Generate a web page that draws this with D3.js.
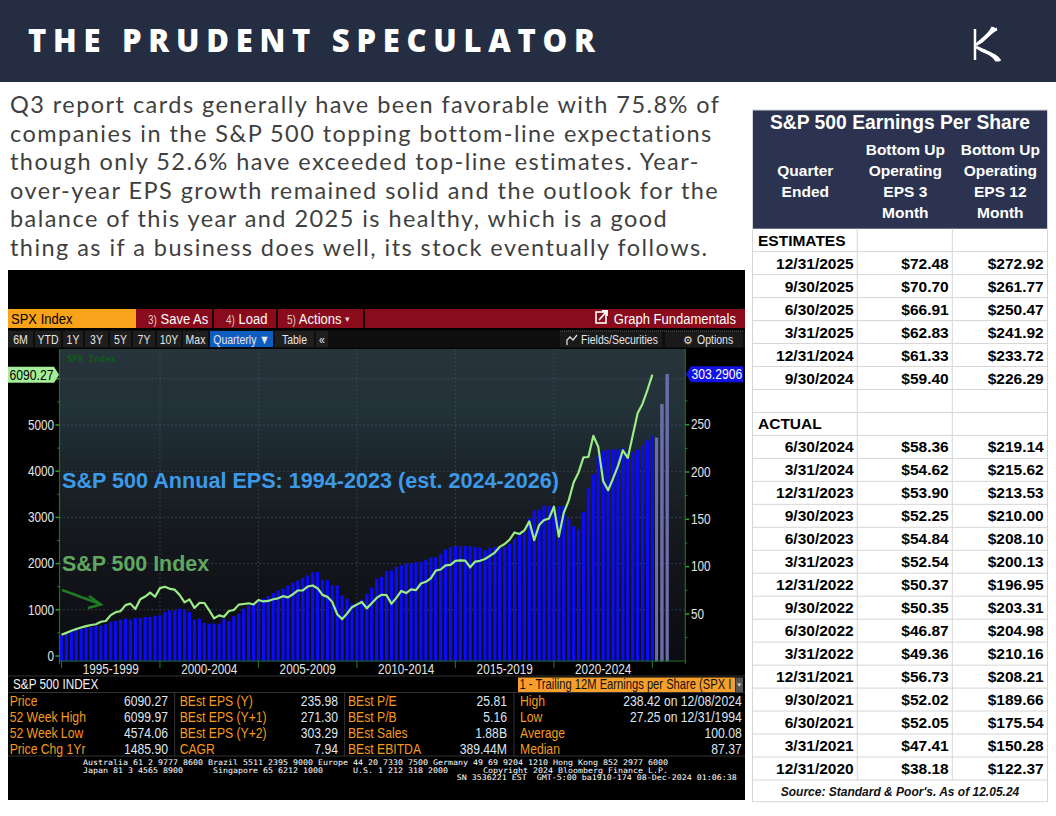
<!DOCTYPE html>
<html><head><meta charset="utf-8">
<script src="https://cdn.jsdelivr.net/npm/d3@7"></script>
<style>body{margin:0;background:#fff;}svg{display:block;}</style>
</head><body>
<svg id="c" width="1056" height="816"></svg>
<script>
// ---------------- DATA ----------------
const introLines = [
  "Q3 report cards generally have been favorable with 75.8% of",
  "companies in the S&P 500 topping bottom-line expectations",
  "though only 52.6% have exceeded top-line estimates. Year-",
  "over-year EPS growth remained solid and the outlook for the",
  "balance of this year and 2025 is healthy, which is a good",
  "thing as if a business does well, its stock eventually follows."
];
// Trailing 12M EPS (SPX), quarterly from 12/31/1994 to 12/08/2024 (right axis)
const epsTrailing = [
  27.25,29.2,32.0,33.5,34.5,35.6,36.3,37.3,37.7,39.1,
  41.6,42.6,44.0,45.1,44.0,45.8,45.8,46.8,46.8,47.9,
  48.6,52.1,53.9,53.9,55.6,54.6,52.1,44.0,45.1,40.5,
  39.8,39.8,39.8,45.1,42.6,47.9,50.3,55.6,59.2,60.9,
  65.1,66.1,68.9,72.1,74.9,76.7,80.2,83.0,85.5,88.0,
  90.8,94.3,94.3,86.2,85.5,80.2,80.2,69.6,66.1,60.9,
  59.1,65.1,71.4,77.8,87.3,89.1,95.4,96.1,99.6,101.4,
  103.2,103.2,104.9,104.9,107.4,109.5,110.2,113.7,118.3,120.8,
  121.5,121.8,121.8,121.5,120.8,120.1,117.3,119.8,120.8,120.8,
  120.8,124.3,129.6,133.1,136.6,150.7,159.5,160.2,164.8,163.8,
  163.8,163.8,163.8,150.7,142.6,139.4,157.7,183.4,197.5,217.6,
  222.2,223.9,223.9,223.9,225.3,221.1,221.1,223.6,228.2,233.5,
  238.42
];
// S&P 500 index level at the same dates (left axis)
const spxClose = [
  459.27,500.71,544.75,584.41,615.93,645.50,670.63,687.33,740.74,757.12,
  885.14,947.28,970.43,1101.75,1133.84,1017.01,1229.23,1286.37,1372.71,1282.71,
  1469.25,1498.58,1454.60,1436.51,1320.28,1160.33,1224.42,1040.94,1148.08,1147.39,
  989.82,815.28,879.82,848.18,974.50,995.97,1111.92,1126.21,1140.84,1114.58,
  1211.92,1180.59,1191.33,1228.81,1248.29,1294.83,1270.20,1335.85,1418.30,1420.86,
  1503.35,1526.75,1468.36,1322.70,1280.00,1166.36,903.25,797.87,919.32,1057.08,
  1115.10,1169.43,1030.71,1141.20,1257.64,1325.83,1320.64,1131.42,1257.60,1408.47,
  1362.16,1440.67,1426.19,1569.19,1606.28,1681.55,1848.36,1872.34,1960.23,1972.29,
  2058.90,2067.89,2063.11,1920.03,2043.94,2059.74,2098.86,2168.27,2238.83,2362.72,
  2423.41,2519.36,2673.61,2640.87,2718.37,2913.98,2506.85,2834.40,2941.76,2976.74,
  3230.78,2584.59,3100.29,3363.00,3756.07,3972.89,4297.50,4307.54,4766.18,4530.41,
  3785.38,3585.62,3839.50,4109.31,4450.38,4288.05,4769.83,5254.35,5460.48,5762.48,
  6090.27
];
const firstQuarterEnd = 1995.0;           // 12/31/1994
const estimateLabels = ["BEst EPS (Y)","BEst EPS (Y+1)","BEst EPS (Y+2)"];
const estimateValues = [235.98, 271.30, 303.29];
const leftTicks = [0,1000,2000,3000,4000,5000,6000];
const leftTickLabels = [0,1000,2000,3000,4000,5000];
const rightTicks = [50,100,150,200,250];
const periodStarts = [1995,2000,2005,2010,2015,2020];
const periodLabels = ["1995-1999","2000-2004","2005-2009","2010-2014","2015-2019","2020-2024"];
const lastPrice = "6090.27";
const lastEps = "303.2906";

const statsLabels = [
  ["Price","52 Week High","52 Week Low","Price Chg 1Yr"],
  ["BEst EPS (Y)","BEst EPS (Y+1)","BEst EPS (Y+2)","CAGR"],
  ["BEst P/E","BEst P/B","BEst Sales","BEst EBITDA"],
  ["High","Low","Average","Median"]
];
const statsValues = [
  ["6090.27","6099.97","4574.06","1485.90"],
  ["235.98","271.30","303.29","7.94"],
  ["25.81","5.16","1.88B","389.44M"],
  ["238.42 on 12/08/2024","27.25 on 12/31/1994","100.08","87.37"]
];
const footerLines = [
  ["Australia 61 2 9777 8600 Brazil 5511 2395 9000 Europe 44 20 7330 7500 Germany 49 69 9204 1210 Hong Kong 852 2977 6000"],
  ["Japan 81 3 4565 8900","Singapore 65 6212 1000","U.S. 1 212 318 2000","Copyright 2024 Bloomberg Finance L.P."],
  ["SN 3536221 EST  GMT-5:00 ba1910-174 08-Dec-2024 01:06:38"]
];

const estQuarters = ["12/31/2025","9/30/2025","6/30/2025","3/31/2025","12/31/2024","9/30/2024"];
const estEps3 = [72.48,70.70,66.91,62.83,61.33,59.40];
const estEps12 = [272.92,261.77,250.47,241.92,233.72,226.29];
const actQuarters = ["6/30/2024","3/31/2024","12/31/2023","9/30/2023","6/30/2023","3/31/2023","12/31/2022","9/30/2022","6/30/2022","3/31/2022","12/31/2021","9/30/2021","6/30/2021","3/31/2021","12/31/2020"];
const actEps3 = [58.36,54.62,53.90,52.25,54.84,52.54,50.37,50.35,46.87,49.36,56.73,52.02,52.05,47.41,38.18];
const actEps12 = [219.14,215.62,213.53,210.00,208.10,200.13,196.95,203.31,204.98,210.16,208.21,189.66,175.54,150.28,122.37];

// ---------------- DRAW ----------------
const svg = d3.select("#c");
const BB = "'Liberation Sans',Arial,sans-serif";
const AR = "'Liberation Sans',Arial,sans-serif";
const SX = 0.84; // condensed Bloomberg look
function bt(x, y, s, size, fill, anchor, sx){
  const g = svg.append("g").attr("transform",`translate(${x},${y}) scale(${sx||SX},1)`);
  return g.append("text").attr("text-anchor",anchor||"start").text(s)
    .attr("font-family",BB).attr("font-size",size).attr("fill",fill);
}

// header band
svg.append("rect").attr("width",1056).attr("height",82).attr("fill","#252d42");
svg.append("text").attr("x",28).attr("y",52).text("THE PRUDENT SPECULATOR")
  .attr("fill","#fff").attr("font-family","'Open Sans',Lato,sans-serif").attr("font-weight",800)
  .attr("font-size",31).attr("textLength",567).attr("lengthAdjust","spacing");
// logo
const lg = svg.append("g").attr("stroke","#fff").attr("fill","none").attr("stroke-width",3).attr("stroke-linecap","butt");
lg.append("line").attr("x1",975).attr("x2",975).attr("y1",29).attr("y2",60).attr("stroke-width",2.5);
[0,5,10].forEach(o=>{
  lg.append("path").attr("d",`M${976+o*0.5},${45-o*0.3} C${981+o*0.6},${40-o*0.4} ${990+o*0.3},${35-o*0.5} ${993+o*0.4},${27+o*0.2}`);
  lg.append("path").attr("d",`M${976+o*0.5},${47+o*0.3} C${985+o*0.5},${51+o*0.3} ${993+o*0.2},${54} ${997+o*0.3},${61}`);
});

// intro paragraph
svg.append("g").selectAll("text").data(introLines).join("text")
  .attr("x",10).attr("y",(d,i)=>113+i*28.5).text(d=>d)
  .attr("fill","#3f3f3f").attr("font-family","Lato,'Open Sans',sans-serif").attr("font-size",23.5)
  .attr("letter-spacing",1.45);

// ---------- Bloomberg panel ----------
svg.append("rect").attr("x",8).attr("y",270).attr("width",737).attr("height",530).attr("fill","#000");

// toolbar row 1
svg.append("rect").attr("x",8).attr("y",309).attr("width",128).attr("height",19).attr("fill","#f9a31b");
svg.append("rect").attr("x",136).attr("y",309).attr("width",609).attr("height",19).attr("fill","#8a0b1c");
[212,276,363].forEach(x=>svg.append("rect").attr("x",x).attr("y",309).attr("width",2).attr("height",19).attr("fill","#1a0000"));
bt(11,323.8,"SPX Index",15.5,"#000");
[["3)"," Save As",148],["4)"," Load",226],["5)"," Actions",287]].forEach(b=>{
  const t = bt(b[2],323.8,"",15.5,"#fff");
  t.append("tspan").text(b[0]).attr("fill","#d9c7c7").attr("font-size",12);
  t.append("tspan").text(b[1]);
});
svg.append("text").attr("x",345).attr("y",322).text("▾").attr("font-size",9).attr("fill","#ddd");
bt(736,323.8,"Graph Fundamentals",15.5,"#fff","end");
svg.append("rect").attr("x",596).attr("y",312).attr("width",10).attr("height",11).attr("fill","none").attr("stroke","#fff").attr("stroke-width",1.6);
svg.append("path").attr("d","M599,320 L607,311 M602,311 L607,311 L607,316").attr("stroke","#fff").attr("stroke-width",1.8).attr("fill","none");

// toolbar row 2
svg.append("rect").attr("x",8).attr("y",330).attr("width",737).attr("height",18).attr("fill","#0e0e0e");
const btns = [["6M",8,33],["YTD",35,61],["1Y",63,83],["3Y",85,108],["5Y",110,131],["7Y",133,155],["10Y",157,181],["Max",183,208],["Quarterly ▼",210,273],["Table",275,314],["«",316,328]];
btns.forEach(b=>{
  svg.append("rect").attr("x",b[1]).attr("y",331).attr("width",b[2]-b[1]).attr("height",16).attr("fill",b[0].startsWith("Quarterly")?"#0d5cc0":"#1e1e1e");
  bt((b[1]+b[2])/2,343.5,b[0],12.5,"#e6e6e6","middle");
});
svg.append("rect").attr("x",560).attr("y",331).attr("width",102).attr("height",16).attr("fill","#1a1a1a");
svg.append("rect").attr("x",665).attr("y",331).attr("width",78).attr("height",16).attr("fill","#1a1a1a");
svg.append("line").attr("x1",560).attr("x2",743).attr("y1",331).attr("y2",331).attr("stroke","#555").attr("stroke-dasharray","1,1");
bt(581,343.5,"Fields/Securities",12.5,"#e6e6e6");
svg.append("path").attr("d","M567,345 L567,340 L570,337 L573,340 L577,335").attr("stroke","#ddd").attr("fill","none").attr("stroke-width",1.3);
bt(697,343.5,"Options",12.5,"#e6e6e6");
svg.append("text").attr("x",683).attr("y",344).text("⚙").attr("font-size",11).attr("fill","#ddd");

// ---------- chart ----------
const plot = {x0:59.5, x1:685.3, y0:349, y1:661};
const xT = d3.scaleLinear().domain([1994.9, 2026.67]).range([plot.x0, plot.x1]);
const yL = d3.scaleLinear().domain([0,6000]).range([656, 378.8]);
const yR = d3.scaleLinear().domain([0,300]).range([661.3, 377.35]);

// banded background
const bgc = d3.scaleLinear().domain([349,415,470,540,600,661])
  .range(["#27343c","#223038","#1b242a","#14181d","#101117","#0c0c14"]);
const bands = d3.range(plot.y0, plot.y1, 10);
svg.append("g").selectAll("rect").data(bands).join("rect")
  .attr("x",plot.x0).attr("width",plot.x1-plot.x0).attr("y",d=>d).attr("height",d=>Math.min(10,plot.y1-d)+0.5)
  .attr("fill",d=>bgc(d+5));

// gridlines
svg.append("g").selectAll("line").data(leftTicks.filter(d=>d>0)).join("line")
  .attr("x1",plot.x0).attr("x2",plot.x1).attr("y1",d=>yL(d)).attr("y2",d=>yL(d))
  .attr("stroke","#4a5560").attr("stroke-dasharray","1.5,2.5").attr("stroke-width",0.8);
svg.append("g").selectAll("line").data(periodStarts.slice(1)).join("line")
  .attr("x1",d=>xT(d)).attr("x2",d=>xT(d)).attr("y1",plot.y0).attr("y2",plot.y1)
  .attr("stroke","#46525c").attr("stroke-dasharray","1.5,2.5").attr("stroke-width",0.8);

// bars
const epsData = epsTrailing.map((v,i)=>({date:firstQuarterEnd+i*0.25, v}));
svg.append("g").selectAll("rect").data(epsData).join("rect")
  .attr("x",d=>xT(d.date)-1.6).attr("width",3.2)
  .attr("y",d=>yR(d.v)).attr("height",d=>yR(0)-yR(d.v)).attr("fill","#0b0cf5");
const lastDate = epsData[epsData.length-1].date;
const xE = d3.scalePoint().domain(estimateLabels).range([xT(lastDate)+4.2, xT(lastDate)+14.8]);
svg.append("g").selectAll("rect").data(estimateValues).join("rect")
  .attr("x",(d,i)=>xE(estimateLabels[i])-1.3).attr("width",2.6)
  .attr("y",d=>yR(d)).attr("height",d=>yR(0)-yR(d)).attr("fill","#6b6cae").attr("stroke","#8d8ed0").attr("stroke-width",0.4);

// index line
const lineData = spxClose.map((v,i)=>({date:firstQuarterEnd+i*0.25, v}));
svg.append("path").datum(lineData)
  .attr("d", d3.line().x(d=>xT(d.date)).y(d=>yL(d.v)))
  .attr("fill","none").attr("stroke","#9aec84").attr("stroke-width",2.2).attr("stroke-linejoin","round");

// axes lines
const axc = "#1f6b1f";
svg.append("line").attr("x1",plot.x0).attr("x2",plot.x0).attr("y1",plot.y0).attr("y2",plot.y1+3).attr("stroke",axc).attr("stroke-width",1.2);
svg.append("line").attr("x1",plot.x1).attr("x2",plot.x1).attr("y1",plot.y0).attr("y2",plot.y1+3).attr("stroke",axc).attr("stroke-width",1.2);
svg.append("line").attr("x1",plot.x0).attr("x2",plot.x1).attr("y1",plot.y1).attr("y2",plot.y1).attr("stroke",axc).attr("stroke-width",1.2);

// left axis
const lMinor = d3.range(500,6000,1000);
svg.append("g").selectAll("line").data(leftTicks).join("line")
  .attr("x1",plot.x0-4).attr("x2",plot.x0).attr("y1",d=>yL(d)).attr("y2",d=>yL(d)).attr("stroke","#2f9a2f").attr("stroke-width",1.5);
svg.append("g").selectAll("line").data(lMinor).join("line")
  .attr("x1",plot.x0-2).attr("x2",plot.x0).attr("y1",d=>yL(d)).attr("y2",d=>yL(d)).attr("stroke","#2f9a2f");
leftTickLabels.forEach(d=>bt(54,yL(d)+4.8,String(d),14,"#e4e4e4","end"));
// right axis
const rMinor = d3.range(25,300,50);
svg.append("g").selectAll("line").data(rightTicks).join("line")
  .attr("x1",plot.x1).attr("x2",plot.x1+4).attr("y1",d=>yR(d)).attr("y2",d=>yR(d)).attr("stroke","#2f9a2f").attr("stroke-width",1.5);
svg.append("g").selectAll("line").data(rMinor).join("line")
  .attr("x1",plot.x1).attr("x2",plot.x1+2).attr("y1",d=>yR(d)).attr("y2",d=>yR(d)).attr("stroke","#2f9a2f");
rightTicks.forEach(d=>bt(691,yR(d)+4.8,String(d),14,"#e4e4e4"));
// x axis
svg.append("g").selectAll("line").data(periodStarts.concat([2025])).join("line")
  .attr("x1",d=>xT(d)).attr("x2",d=>xT(d)).attr("y1",plot.y1).attr("y2",plot.y1+7).attr("stroke",axc).attr("stroke-width",1.2);
periodLabels.forEach((d,i)=>bt(xT(periodStarts[i]+2.5),674,d,14,"#e4e4e4","middle"));

// last value tags
const tagL = yL(+lastPrice);
svg.append("path").attr("d",`M8,${tagL-8} L54,${tagL-8} L59,${tagL} L54,${tagL+8} L8,${tagL+8} Z`).attr("fill","#a4ee98");
bt(9.5,tagL+5,lastPrice,14.5,"#000");
const tagR = yR(+lastEps);
svg.append("path").attr("d",`M686,${tagR} L691,${tagR-8} L743,${tagR-8} L743,${tagR+8} L691,${tagR+8} Z`).attr("fill","#1212e6");
bt(691.5,tagR+5,lastEps,14.5,"#fff");

// in-plot labels
svg.append("text").attr("x",67).attr("y",362).text("SPX Index").attr("font-family","'DejaVu Sans Mono',monospace").attr("font-weight","bold").attr("font-size",9).attr("fill","#0d5f12");
svg.append("text").attr("x",62).attr("y",488).text("S&P 500 Annual EPS: 1994-2023 (est. 2024-2026)")
  .attr("font-family",AR).attr("font-weight","bold").attr("font-size",21.6).attr("fill","#3d9ae8");
svg.append("text").attr("x",62).attr("y",571).text("S&P 500 Index")
  .attr("font-family",AR).attr("font-weight","bold").attr("font-size",21.4).attr("fill","#5fa85f");
svg.append("line").attr("x1",62).attr("y1",590).attr("x2",100).attr("y2",604).attr("stroke","#1f7a22").attr("stroke-width",2.4);
svg.append("polyline").attr("points","89,596 101,604.5 88,608").attr("stroke","#1f7a22").attr("stroke-width",2.4).attr("fill","none");

// ---------- stats area ----------
svg.append("line").attr("x1",8).attr("x2",745).attr("y1",676).attr("y2",676).attr("stroke","#333");
bt(13,689,"S&P 500 INDEX",14,"#f2f2f2");
svg.append("rect").attr("x",518).attr("y",677.5).attr("width",217).attr("height",15).attr("fill","#f6a02b");
bt(519.5,689.3,"1 - Trailing 12M Earnings per Share (SPX I",14,"#111","start",0.8);
svg.append("rect").attr("x",735.5).attr("y",677.5).attr("width",7.5).attr("height",15).attr("fill","#555");
svg.append("path").attr("d","M737.2,683.5 L741.2,683.5 L739.2,686.5 Z").attr("fill","#ddd");
svg.append("line").attr("x1",8).attr("x2",745).attr("y1",692.5).attr("y2",692.5).attr("stroke","#333");
svg.append("line").attr("x1",8).attr("x2",745).attr("y1",756).attr("y2",756).attr("stroke","#333");
const colLab = [9.7,179.7,348,520], colVal=[168,338,507,741.7], divs=[174.7,344.7,514];
divs.forEach(x=>svg.append("line").attr("x1",x).attr("x2",x).attr("y1",693).attr("y2",756).attr("stroke","#333"));
statsLabels.forEach((col,c)=>{
  col.forEach((d,i)=>bt(colLab[c],705.5+i*16.1,d,14.5,"#f49a1c"));
  statsValues[c].forEach((d,i)=>bt(colVal[c],705.5+i*16.1,d,14.5,"#dfe5ee","end"));
});
// footer mono
const fx = [[83],[83,213,353,483],[456.7]], fy=[765.3,772.8,780.3];
footerLines.forEach((ln,r)=>ln.forEach((s,k)=>{
  svg.append("text").attr("x",fx[r][k]).attr("y",fy[r]).text(s).attr("xml:space","preserve")
    .attr("font-family","'DejaVu Sans Mono',monospace").attr("font-size",7.6).attr("fill","#fff")
    .attr("textLength",s.length*5).attr("lengthAdjust","spacingAndGlyphs");
}));

// ---------- table ----------
const T = {x0:752.5, x1:1047.5, cols:[752.5,857.3,952.3,1047.5], top:110, hb:228.7, rh:22.97};
svg.append("rect").attr("x",T.x0).attr("y",T.top).attr("width",T.x1-T.x0).attr("height",T.hb-T.top).attr("fill","#2b3350");
svg.append("text").attr("x",(T.x0+T.x1)/2).attr("y",129).attr("text-anchor","middle").text("S&P 500 Earnings Per Share")
  .attr("font-family",AR).attr("font-weight","bold").attr("font-size",19.3).attr("fill","#fff");
const hdr = [[805.3,["","Quarter","Ended",""]],[905.3,["Bottom Up","Operating","EPS 3","Month"]],[1000.3,["Bottom Up","Operating","EPS 12","Month"]]];
const hy=[155,176,196.8,217.8];
hdr.forEach(h=>h[1].forEach((s,i)=>{ if(s) svg.append("text").attr("x",h[0]).attr("y",hy[i]).attr("text-anchor","middle").text(s)
  .attr("font-family",AR).attr("font-weight","bold").attr("font-size",15.5).attr("fill","#fff");}));
const rows = [{sec:"ESTIMATES"}]
  .concat(estQuarters.map((q,i)=>({q,a:estEps3[i],b:estEps12[i]})))
  .concat([{blank:true},{sec:"ACTUAL"}])
  .concat(actQuarters.map((q,i)=>({q,a:actEps3[i],b:actEps12[i]})));
const fmt = v=>"$"+v.toFixed(2);
const gridc="#d6d6d6";
rows.forEach((r,i)=>{
  const y=T.hb+i*T.rh;
  svg.append("line").attr("x1",T.x0).attr("x2",T.x1).attr("y1",y+T.rh).attr("y2",y+T.rh).attr("stroke",gridc);
  if(r.sec) svg.append("text").attr("x",758).attr("y",y+17).text(r.sec).attr("font-family",AR).attr("font-weight","bold").attr("font-size",15.5).attr("fill","#000");
  if(r.q){
    [[r.q,853.7],[fmt(r.a),948.7],[fmt(r.b),1043.7]].forEach(c=>svg.append("text").attr("x",c[1]).attr("y",y+17).attr("text-anchor","end").text(c[0])
      .attr("font-family",AR).attr("font-weight","bold").attr("font-size",15.5).attr("fill","#000"));
  }
});
const tEnd = T.hb+rows.length*T.rh;
[T.cols[1],T.cols[2]].forEach(x=>svg.append("line").attr("x1",x).attr("x2",x).attr("y1",T.hb).attr("y2",tEnd).attr("stroke",gridc));
svg.append("rect").attr("x",T.x0).attr("y",T.top).attr("width",T.x1-T.x0).attr("height",801.7-T.top).attr("fill","none").attr("stroke",gridc);
svg.append("text").attr("x",(T.x0+T.x1)/2).attr("y",795.5).attr("text-anchor","middle").text("Source: Standard & Poor's. As of 12.05.24")
  .attr("font-family",AR).attr("font-weight","bold").attr("font-style","italic").attr("font-size",12).attr("fill","#111");
</script>
</body></html>
